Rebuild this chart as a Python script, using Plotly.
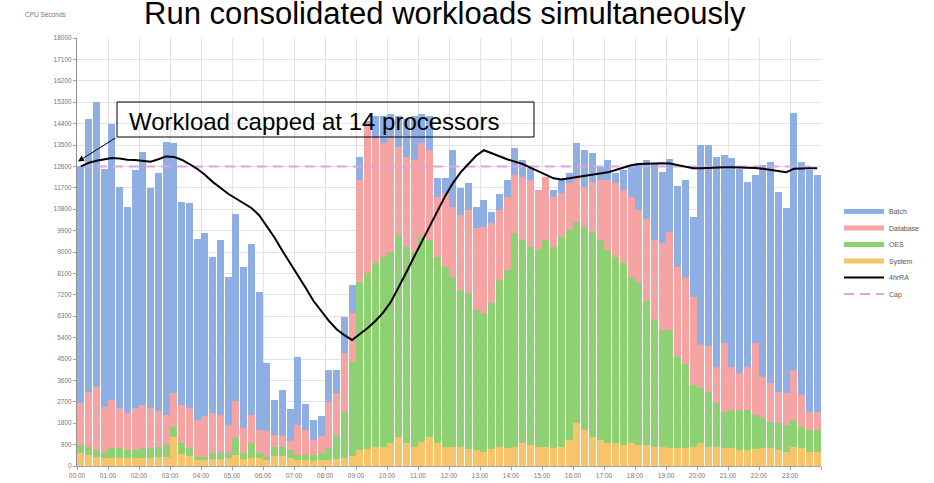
import plotly.graph_objects as go

# ---------------- data (15-minute intervals, CPU seconds) ----------------
hour_labels = ["00:00", "01:00", "02:00", "03:00", "04:00", "05:00", "06:00", "07:00",
               "08:00", "09:00", "10:00", "11:00", "12:00", "13:00", "14:00", "15:00",
               "16:00", "17:00", "18:00", "19:00", "20:00", "21:00", "22:00", "23:00"]

system = [530, 460, 390, 320, 320, 330, 330, 330, 350, 350, 360, 380,
          1230, 500, 400, 250, 260, 300, 300, 330, 450, 300, 350, 330,
          250, 420, 400, 330, 250, 250, 230, 250, 250, 280, 350, 420,
          670, 700, 800, 810, 950, 1230, 950, 810, 1000, 1230, 950, 810,
          810, 810, 700, 670, 600, 700, 810, 740, 810, 950, 880, 810,
          810, 740, 810, 1100, 1800, 1500, 1230, 1100, 950, 950, 880, 950,
          880, 880, 810, 810, 740, 740, 740, 810, 950, 810, 810, 740,
          740, 670, 670, 700, 740, 740, 670, 600, 810, 740, 600, 600]

oes = [350, 350, 280, 210, 420, 410, 340, 340, 390, 390, 450, 500,
       420, 450, 340, 140, 130, 230, 230, 200, 720, 230, 600, 200,
       140, 390, 410, 340, 210, 210, 230, 280, 490, 1020, 1940, 3970,
       7080, 7400, 7720, 7990, 8070, 8490, 8280, 8200, 8650, 8280, 7850, 7580,
       7150, 6590, 6560, 5890, 5820, 6140, 7010, 7500, 8980, 8560, 8350, 8280,
       8700, 8490, 8840, 8830, 8480, 8570, 8630, 8400, 8140, 7850, 7640, 7010,
       6800, 6080, 5330, 4910, 4980, 3860, 3560, 2590, 2350, 2290, 1830, 1550,
       1600, 1680, 1680, 1450, 1270, 1130, 1130, 1130, 1130, 910, 910, 910]

database = [1770, 2310, 2670, 1970, 2040, 1700, 1560, 1770, 1840, 1700, 1490, 1280,
            1410, 1630, 1700, 1560, 1700, 1700, 1630, 1210, 1550, 1070, 1210, 1000,
            1070, 510, 440, 370, 1280, 1070, 650, 720, 1960, 1760, 2450, 2030,
            4280, 6200, 5280, 4770, 4760, 3710, 3780, 3860, 3920, 3780, 2530, 3080,
            2940, 3160, 3510, 3440, 3650, 3370, 2940, 3090, 2450, 2660, 2800, 2520,
            2660, 2100, 1820, 1960, 1890, 1680, 2100, 2530, 2940, 3090, 3090, 3370,
            3080, 3440, 3370, 3650, 4140, 3790, 3600, 3700, 1800, 1950, 1540, 2870,
            1830, 1550, 1830, 3010, 1750, 1630, 1330, 1330, 2100, 1350, 780, 780]

batch = [9950, 11480, 11960, 10000, 11620, 9310, 8670, 10010, 10620, 9240, 10040, 11480,
         10510, 8540, 8610, 7580, 7720, 6570, 7340, 6220, 7880, 6780, 7180, 5800,
         2860, 1460, 1950, 1360, 2860, 1070, 820, 850, 1340, 980, 1540, 1190,
         980, 200, 900, 1130, 1020, 1270, 1590, 1830, 1230, 1410, 770, 630,
         2400, 1120, 1120, 910, 1120, 490, 700, 700, 1120, 700, 490, 0,
         0, 280, 560, 420, 1400, 1540, 1190, 560, 840, 420, 840, 1260,
         1970, 2470, 3220, 3010, 3040, 3400, 4130, 3390, 8400, 8450, 8830, 7910,
         8770, 8600, 7780, 7080, 8900, 9300, 8410, 7780, 10790, 9800, 10160, 9950]

avg_4hr = [12600, 12750, 12840, 12880, 12950, 12930, 12880, 12870, 12850, 12800, 12900, 13020,
           13000, 12880, 12700, 12500, 12250, 11950, 11700, 11450, 11250, 11050, 10850, 10550,
           10100, 9600, 9050, 8550, 8000, 7500, 6950, 6500, 6100, 5750, 5500, 5300,
           5550, 5800, 6100, 6450, 6900, 7500, 8150, 8800, 9450, 10100, 10750, 11350,
           11900, 12350, 12700, 13050, 13280, 13150, 13000, 12900, 12800, 12700, 12550, 12400,
           12250, 12100, 12050, 12100, 12150, 12200, 12250, 12300, 12350, 12450, 12550, 12650,
           12700, 12720, 12730, 12730, 12720, 12650, 12560, 12520, 12520, 12540, 12560, 12560,
           12560, 12560, 12550, 12530, 12500, 12450, 12400, 12350, 12500, 12520, 12520, 12520]

cap_value = 12600

# ---------------- styling ----------------
batch_color = "#8FAEE3"
db_color = "#F5A3A3"
oes_color = "#8ED173"
sys_color = "#F7C46C"
cap_color = "#DFA2E2"
font_family = "Liberation Sans, Arial, sans-serif"

slots = list(range(len(batch)))
per_hour = len(slots) // len(hour_labels)
tick_vals = [h * per_hour - 0.5 for h in range(len(hour_labels) + 1)]
tick_text = hour_labels + [""]

L, R, T, B = 77, 113, 38, 17
W, H = 934, 483
pw, ph = W - L - R, H - T - B


def px_x(x):
    return (x - L) / pw


def px_y(y):
    return (H - B - y) / ph


fig = go.Figure()

stack = [("System", system, sys_color),
         ("OES", oes, oes_color),
         ("Database", database, db_color),
         ("Batch", batch, batch_color)]
for name, vals, col in stack:
    fig.add_trace(go.Bar(x=slots, y=vals, name=name, marker=dict(color=col, line=dict(width=0)),
                         showlegend=False, legendgroup=name))

# legend entries (one small legend per entry so spacing matches the original)
legend_slots = {"Batch": "legend", "Database": "legend2", "OES": "legend3",
                "System": "legend4", "4hrRA": "legend5", "Cap": "legend6"}
legend_y = {"legend": 211.5, "legend2": 228, "legend3": 244.5,
            "legend4": 261, "legend5": 277.5, "legend6": 294}

for name, vals, col in stack:
    fig.add_trace(go.Scatter(x=[None], y=[None], mode="lines", name=name, legendgroup=name,
                             line=dict(color=col, width=5), legend=legend_slots[name]))

fig.add_trace(go.Scatter(x=slots, y=[cap_value] * len(slots), mode="lines", name="Cap",
                         line=dict(color=cap_color, width=2, dash="10px,6px"),
                         legend=legend_slots["Cap"]))
fig.add_trace(go.Scatter(x=slots, y=avg_4hr, mode="lines", name="4hrRA",
                         line=dict(color="black", width=2), legend=legend_slots["4hrRA"]))

legend_layouts = {}
for key, ypx in legend_y.items():
    legend_layouts[key] = dict(x=px_x(839), y=px_y(ypx), xanchor="left", yanchor="middle",
                               font=dict(size=7, color="#555555", family=font_family),
                               itemwidth=40, bgcolor="rgba(0,0,0,0)", borderwidth=0)

fig.update_layout(
    width=W, height=H,
    margin=dict(l=L, r=R, t=T, b=B, autoexpand=False),
    barmode="stack", bargap=0.12,
    plot_bgcolor="white", paper_bgcolor="white",
    font=dict(family=font_family, color="#666666", size=7),
    xaxis=dict(range=[-0.5, len(slots) - 0.5], tickmode="array", tickvals=tick_vals,
               ticktext=tick_text, showgrid=True, gridcolor="#E3E3E3", gridwidth=1,
               showline=True, linecolor="#A0A0A0", ticks="outside", ticklen=3,
               tickcolor="#A0A0A0", tickfont=dict(size=6.5, color="#777777"), zeroline=False,
               automargin=False),
    yaxis=dict(range=[0, 18000], dtick=900, tick0=0, tickformat="d", showgrid=True,
               gridcolor="#E3E3E3", gridwidth=1, showline=True, linecolor="#909090",
               ticks="outside", ticklen=3, tickcolor="#A0A0A0",
               tickfont=dict(size=6.5, color="#777777"), zeroline=False, automargin=False),
    shapes=[dict(type="rect", xref="paper", yref="paper",
                 x0=px_x(117), x1=px_x(534), y0=px_y(137), y1=px_y(102),
                 line=dict(color="black", width=1), fillcolor="rgba(0,0,0,0)")],
    annotations=[
        dict(text="Run consolidated workloads simultaneously", xref="paper", yref="paper",
             x=px_x(445), y=px_y(14), xanchor="center", yanchor="middle", showarrow=False,
             font=dict(family=font_family, size=31, color="black")),
        dict(text="CPU Seconds", xref="paper", yref="paper", x=px_x(46), y=px_y(15),
             xanchor="center", yanchor="middle", showarrow=False,
             font=dict(size=6.5, color="#777777")),
        dict(text="Workload capped at 14 processors", xref="paper", yref="paper",
             x=px_x(127), y=px_y(121), xanchor="left", yanchor="middle", showarrow=False,
             font=dict(family=font_family, size=24, color="black")),
        dict(text="", xref="paper", yref="paper", x=px_x(78), y=px_y(161.5),
             axref="pixel", ayref="pixel",
             showarrow=True, arrowhead=2, arrowsize=1.2, arrowwidth=1, arrowcolor="black",
             ax=117 - 78, ay=137 - 161.5, standoff=0),
    ],
    **legend_layouts,
)

fig.write_html("out.html", config={"displayModeBar": False},
               post_script="document.body.style.margin='0px';document.body.style.overflow='hidden';")
